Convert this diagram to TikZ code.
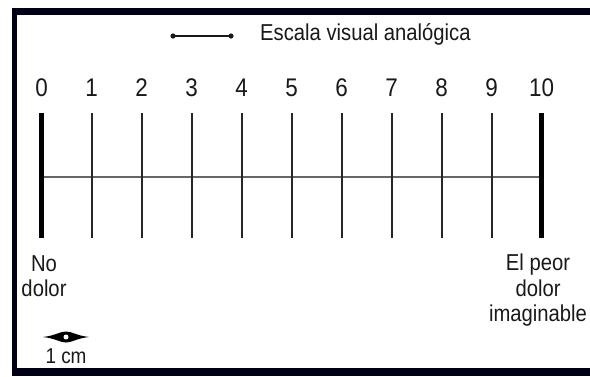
\documentclass[tikz,border=0pt]{standalone}
\usepackage{fontspec}
\setmainfont[FakeStretch=0.88]{Liberation Sans}
\usetikzlibrary{positioning}

\begin{document}
\begin{tikzpicture}[
  x=1pt, y=-1pt,
  font=\fontsize{23}{25.5}\selectfont,
  every node/.style={text=black!90, inner sep=0pt},
  digit/.style={anchor=base, font=\fontsize{25.5}{26}\selectfont},
  scaletick/.style={draw=black!85, line width=1.7pt},
  endbar/.style={draw=black, line width=5pt},
  axisline/.style={draw=black!60, line width=2.4pt},
  lbl/.style={align=center, anchor=north},
  frame/.style={fill=black!92!blue}
]
\useasboundingbox (0,0) rectangle (590,376);
\clip (0,0) rectangle (590,376);
% frame
\fill[frame] (12,8) rectangle (590,15);
\fill[frame] (12,8) rectangle (17,376);
\fill[frame] (12,368) rectangle (590,376);
% title and its segment
\coordinate (segL) at (173,36);
\coordinate (segR) at (231,36);
\draw[line width=1.3pt, black!90] (segL) -- (segR);
\fill[black!90] (segL) circle (2.6) (segR) circle (2.6);
\node[anchor=base west] (title) at (260,40) {Escala visual analógica};
% scale
\foreach \i in {0,...,10} {
  \coordinate (t\i) at (41.7+50*\i,113);
  \coordinate (m\i) at (41.7+50*\i,177);
  \coordinate (b\i) at (41.7+50*\i,238);
  \node[digit] (n\i) at (41.7+50*\i,96.5) {\i};
}
\draw[axisline] (m0) -- (m10);
\foreach \i in {1,...,9}
  \draw[scaletick] (t\i) -- (b\i);
\draw[endbar] (t0) -- (b0);
\draw[endbar] (t10) -- (b10);
% end labels
\node[lbl] (nodolor) at (44,255) {No\\dolor};
\node[lbl] (peor) at (538,254) {El peor\\dolor\\imaginable};
% 1 cm mark
\coordinate (cmc) at (66,337);
\fill[black] (43,337) .. controls (56,335.5) and (60,331.5) .. (66,331.5)
  .. controls (72,331.5) and (76,335.5) .. (89,337)
  .. controls (76,338.5) and (72,342.5) .. (66,342.5)
  .. controls (60,342.5) and (56,338.5) .. (43,337) -- cycle;
\fill[white] (cmc) circle (2.5);
\node[anchor=base, font=\fontsize{21.5}{23}\selectfont] (cm) at (66,363) {1 cm};
\end{tikzpicture}
\end{document}
